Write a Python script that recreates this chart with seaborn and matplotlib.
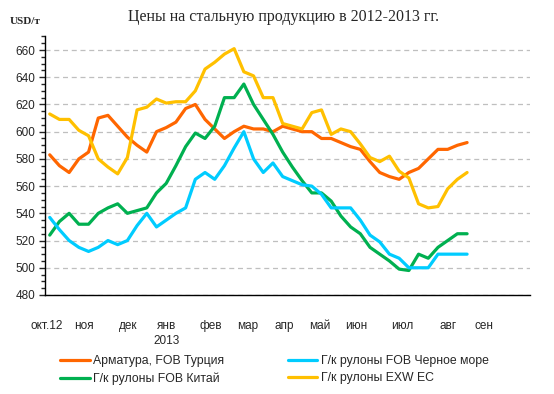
import pandas as pd
import matplotlib.pyplot as plt
import seaborn as sns
import numpy as np
from matplotlib.ticker import MultipleLocator

# weekly prices, USD/t (Oct 2012 - Aug 2013)
rebar_turkey = [583, 575, 570, 580, 585, 610, 612, 604, 596, 590, 585, 600,
                603, 607, 617, 620, 609, 602, 595, 600, 604, 602, 602, 600,
                604, 602, 600, 600, 595, 595, 592, 589, 587, 578, 570, 567,
                565, 570, 573, 580, 587, 587, 590, 592]
hrc_black_sea = [537, 528, 520, 515, 512, 515, 520, 517, 520, 531, 540, 530,
                 535, 540, 544, 565, 570, 565, 575, 588, 600, 580, 570, 577,
                 567, 564, 561, 560, 554, 544, 544, 544, 535, 524, 519, 510,
                 507, 500, 500, 500, 510, 510, 510, 510]
hrc_china = [524, 534, 540, 532, 532, 540, 544, 547, 540, 542, 544, 555,
             562, 575, 589, 599, 595, 604, 625, 625, 635, 620, 609, 598,
             585, 574, 564, 555, 555, 549, 538, 530, 525, 515, 510, 505,
             499, 498, 510, 507, 515, 520, 525, 525]
hrc_exw_eu = [613, 609, 609, 601, 597, 580, 574, 569, 581, 616, 618, 624,
              621, 622, 622, 630, 646, 651, 657, 661, 644, 641, 625, 625,
              606, 604, 602, 614, 616, 598, 602, 600, 591, 581, 578, 582,
              571, 566, 547, 544, 545, 558, 565, 570]

series_names = ['Арматура, FOB Турция', 'Г/к рулоны FOB Китай',
                'Г/к рулоны FOB Черное море', 'Г/к рулоны EXW ЕС']
series_colors = ['#FF6600', '#00B050', '#00CCFF', '#FFC000']

month_labels = ['окт.12', 'ноя', 'дек', 'янв\n2013', 'фев', 'мар', 'апр',
                'май', 'июн', 'июл', 'авг', 'сен']
month_pos = [-0.3, 3.5, 8.1, 12.0, 16.6, 20.4, 24.2, 27.8, 31.6, 36.3, 41.0, 44.7]

weeks = np.arange(len(rebar_turkey))
df = pd.concat([
    pd.DataFrame({'week': weeks, 'price': vals, 'series': name})
    for name, vals in zip(series_names,
                          [rebar_turkey, hrc_china, hrc_black_sea, hrc_exw_eu])
])

sns.set_style('white')
plt.rcParams['font.family'] = ['Liberation Sans', 'DejaVu Sans']

fig = plt.figure(figsize=(5.54, 3.94), dpi=100)
ax = fig.add_axes([0.081, 0.2513, 0.876, 0.6563])

sns.lineplot(data=df, x='week', y='price', hue='series', hue_order=series_names,
             palette=series_colors, linewidth=2.3, legend=False, ax=ax)

ax.set_xlim(-0.5, 49.5)
ax.set_ylim(480, 670)
ax.yaxis.set_major_locator(MultipleLocator(20))
ax.yaxis.set_minor_locator(MultipleLocator(5))
ax.set_yticks(np.arange(480, 661, 20))
ax.set_xticks(month_pos)
ax.set_xticklabels(month_labels, fontsize=8.5, va='top', linespacing=1.3)
ax.tick_params(axis='x', length=0, pad=18)
ax.tick_params(axis='y', which='major', length=4, width=1, direction='out',
               labelsize=8.5, pad=3, left=True)
ax.tick_params(axis='y', which='minor', length=3, width=1, direction='out', left=True)
ax.set_xlabel('')
ax.set_ylabel('')

ax.grid(axis='y', which='major', linestyle=(0, (4, 3)), color='#BFBFBF', linewidth=0.9)
ax.grid(axis='x', visible=False)
for sp in ['top', 'right']:
    ax.spines[sp].set_visible(False)
for sp in ['left', 'bottom']:
    ax.spines[sp].set_color('black')
    ax.spines[sp].set_linewidth(1)

fig.text(0.511, 0.957, 'Цены на стальную продукцию в 2012-2013 гг.',
         ha='center', va='center', fontsize=11.5, family=['Liberation Serif', 'DejaVu Serif'])
fig.text(0.018, 0.945, 'USD/т', ha='left', va='center', fontsize=8,
         fontweight='bold', family=['Liberation Serif', 'DejaVu Serif'])

handles = ax.get_lines()[:4]
fig.legend(handles, series_names, ncol=2, loc='upper left',
           bbox_to_anchor=(0.098, 0.115), frameon=False, fontsize=8.8,
           handlelength=2.4, handletextpad=0.3, columnspacing=5.2,
           labelspacing=0.45, borderpad=0)

fig.savefig('out.png', dpi=100)
